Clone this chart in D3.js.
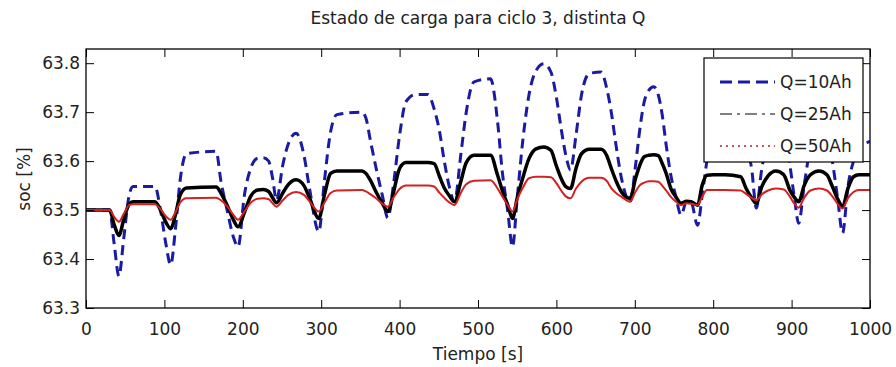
<!DOCTYPE html>
<html>
<head>
<meta charset="utf-8">
<script src="https://cdn.jsdelivr.net/npm/d3@7"></script>
<style>
  body { margin: 0; background: #fff; }
  svg { display: block; font-family: "DejaVu Sans", sans-serif; }
</style>
</head>
<body>
<div class="canvas"></div>
<script>
// time axis [s], shared by all three series
const time = [
    0, 30, 36, 42, 48, 55, 60, 88, 95, 102,
    108, 114, 120, 128, 166, 172, 180, 188, 194, 202,
    210, 219, 226, 233, 238, 243, 251, 258, 268, 278,
    285, 297, 304, 312, 320, 352, 357, 363, 370, 378,
    385, 392, 400, 408, 420, 436, 444, 451, 457, 464,
    470, 478, 485, 495, 516, 525, 531, 538, 544, 550,
    557, 565, 574, 584, 593, 600, 606, 612, 618, 625,
    632, 642, 657, 664, 670, 676, 683, 694, 701, 706,
    712, 718, 724, 730, 735, 740, 746, 752, 759, 766,
    772, 780, 786, 792, 800, 815, 835, 842, 849, 855,
    862, 870, 880, 890, 898, 904, 909, 916, 924, 935,
    945, 952, 959, 965, 972, 979, 986, 1000
];

// soc [%] for Q = 10 Ah
const socQ10 = [
    63.5, 63.5, 63.43, 63.365, 63.44, 63.53, 63.548, 63.548, 63.50, 63.43,
    63.388, 63.46, 63.56, 63.615, 63.62, 63.56, 63.50, 63.445, 63.425, 63.53,
    63.585, 63.606, 63.607, 63.60, 63.565, 63.52, 63.592, 63.635, 63.657, 63.612,
    63.545, 63.456, 63.558, 63.66, 63.695, 63.70, 63.688, 63.64, 63.586, 63.53,
    63.484, 63.55, 63.653, 63.721, 63.736, 63.736, 63.707, 63.66, 63.60, 63.544,
    63.517, 63.612, 63.70, 63.762, 63.768, 63.68, 63.578, 63.497, 63.425, 63.524,
    63.64, 63.735, 63.785, 63.799, 63.782, 63.73, 63.667, 63.612, 63.582, 63.653,
    63.735, 63.779, 63.782, 63.75, 63.70, 63.633, 63.565, 63.517, 63.592, 63.66,
    63.721, 63.745, 63.752, 63.735, 63.694, 63.633, 63.571, 63.53, 63.49, 63.517,
    63.515, 63.469, 63.53, 63.60, 63.65, 63.67, 63.67, 63.63, 63.585, 63.504,
    63.585, 63.64, 63.68, 63.665, 63.59, 63.52, 63.473, 63.55, 63.63, 63.675,
    63.66, 63.60, 63.52, 63.453, 63.55, 63.60, 63.625, 63.64
];

// soc [%] for Q = 25 Ah
const socQ25 = [
    63.5, 63.5, 63.47, 63.448, 63.48, 63.512, 63.517, 63.517, 63.50, 63.475,
    63.462, 63.49, 63.53, 63.545, 63.547, 63.535, 63.51, 63.48, 63.466, 63.495,
    63.528, 63.541, 63.542, 63.538, 63.525, 63.515, 63.535, 63.552, 63.562, 63.55,
    63.525, 63.483, 63.53, 63.575, 63.58, 63.58, 63.575, 63.56, 63.537, 63.514,
    63.497, 63.535, 63.585, 63.597, 63.597, 63.597, 63.595, 63.568, 63.545, 63.528,
    63.517, 63.558, 63.597, 63.612, 63.612, 63.571, 63.54, 63.51, 63.483, 63.525,
    63.565, 63.605, 63.625, 63.629, 63.622, 63.59, 63.565, 63.548, 63.544, 63.585,
    63.615, 63.624, 63.624, 63.612, 63.585, 63.56, 63.537, 63.524, 63.565, 63.59,
    63.609, 63.612, 63.613, 63.611, 63.595, 63.575, 63.544, 63.528, 63.514, 63.518,
    63.517, 63.51, 63.551, 63.571, 63.572, 63.572, 63.568, 63.544, 63.525, 63.514,
    63.548, 63.57, 63.58, 63.572, 63.54, 63.525, 63.517, 63.55, 63.572, 63.58,
    63.572, 63.548, 63.522, 63.507, 63.545, 63.568, 63.572, 63.572
];

// soc [%] for Q = 50 Ah
const socQ50 = [
    63.5, 63.5, 63.486, 63.476, 63.492, 63.51, 63.512, 63.512, 63.502, 63.487,
    63.48, 63.495, 63.515, 63.524, 63.525, 63.52, 63.508, 63.49, 63.48, 63.497,
    63.515, 63.523, 63.524, 63.522, 63.514, 63.507, 63.52, 63.531, 63.537, 63.531,
    63.518, 63.497, 63.515, 63.535, 63.54, 63.541, 63.538, 63.532, 63.524, 63.513,
    63.507, 63.525, 63.543, 63.55, 63.55, 63.55, 63.548, 63.535, 63.525, 63.515,
    63.51, 63.535, 63.553, 63.56, 63.561, 63.544, 63.528, 63.51, 63.497, 63.522,
    63.545, 63.565, 63.568, 63.568, 63.567, 63.555, 63.54, 63.528, 63.524, 63.544,
    63.558, 63.566, 63.566, 63.56, 63.545, 63.535, 63.527, 63.517, 63.538, 63.55,
    63.556, 63.559, 63.559, 63.558, 63.55, 63.54, 63.527, 63.518, 63.51, 63.514,
    63.513, 63.51, 63.527, 63.541, 63.541, 63.541, 63.54, 63.533, 63.525, 63.52,
    63.532, 63.54, 63.544, 63.542, 63.527, 63.512, 63.505, 63.525, 63.54, 63.544,
    63.54, 63.528, 63.512, 63.503, 63.525, 63.537, 63.541, 63.541
];

const seriesNames = ['Q=10Ah', 'Q=25Ah', 'Q=50Ah'];
const xTicks = [0, 100, 200, 300, 400, 500, 600, 700, 800, 900, 1000];
const yTicks = [63.3, 63.4, 63.5, 63.6, 63.7, 63.8];

const width = 896, height = 367;
const margin = { top: 49, right: 26, bottom: 59, left: 86 };
const graphWidth = width - margin.left - margin.right;
const graphHeight = height - margin.top - margin.bottom;

const svg = d3.select('.canvas')
    .append('svg')
    .attr('width', width)
    .attr('height', height);

const x = d3.scaleLinear().domain([0, 1000]).range([0, graphWidth]);
const y = d3.scaleLinear().domain([63.3, 63.829]).range([graphHeight, 0]);

const graph = svg.append('g')
    .attr('transform', `translate(${margin.left}, ${margin.top})`);

graph.append('clipPath').attr('id', 'clip')
    .append('rect').attr('width', graphWidth).attr('height', graphHeight);

// series: plotted in order, red ends on top
const series = [
    { name: seriesNames[0], values: socQ10, color: '#1a1aa2', width: 3, dash: '10,6' },
    { name: seriesNames[1], values: socQ25, color: '#000', width: 3.5, dash: null },
    { name: seriesNames[2], values: socQ50, color: '#d42020', width: 2, dash: null }
];

const line = d3.line()
    .defined(d => d[1] != null)
    .x(d => x(d[0]))
    .y(d => y(d[1]))
    .curve(d3.curveMonotoneX);

const lines = graph.append('g').attr('clip-path', 'url(#clip)');
series.forEach(s => {
    lines.append('path')
        .datum(time.map((t, i) => [t, s.values[i]]))
        .attr('d', line)
        .attr('fill', 'none')
        .attr('stroke', s.color)
        .attr('stroke-width', s.width)
        .attr('stroke-dasharray', s.dash)
        .attr('stroke-linejoin', 'round');
});

// axes (ticks inward, MATLAB box style)
const fmtY = d3.format('.1f');
const styleAxis = g => {
    g.selectAll('text').attr('font-size', 17).attr('fill', '#222')
        .attr('font-family', '"DejaVu Sans", sans-serif');
    g.selectAll('line').attr('stroke', '#000');
    g.select('.domain').remove();
};

graph.append('g')
    .attr('transform', `translate(0, ${graphHeight})`)
    .call(d3.axisBottom(x).tickValues(xTicks).tickSize(-8).tickPadding(15).tickFormat(d3.format('d')))
    .call(styleAxis);

graph.append('g')
    .call(d3.axisTop(x).tickValues(xTicks).tickSize(-8).tickFormat(''))
    .call(styleAxis);

graph.append('g')
    .call(d3.axisLeft(y).tickValues(yTicks).tickSize(-8).tickPadding(6).tickFormat(fmtY))
    .call(styleAxis);

graph.append('g')
    .attr('transform', `translate(${graphWidth}, 0)`)
    .call(d3.axisRight(y).tickValues(yTicks).tickSize(-8).tickFormat(''))
    .call(styleAxis);

graph.append('rect')
    .attr('width', graphWidth)
    .attr('height', graphHeight)
    .attr('fill', 'none')
    .attr('stroke', '#000')
    .attr('stroke-width', 1.3);

// title and axis labels
svg.append('text')
    .attr('x', margin.left + graphWidth / 2)
    .attr('y', 24)
    .attr('text-anchor', 'middle')
    .attr('font-size', 17)
    .attr('fill', '#222')
    .text('Estado de carga para ciclo 3, distinta Q');

svg.append('text')
    .attr('x', margin.left + graphWidth / 2)
    .attr('y', 360)
    .attr('text-anchor', 'middle')
    .attr('font-size', 17)
    .attr('fill', '#222')
    .text('Tiempo [s]');

svg.append('text')
    .attr('transform', 'translate(30, 179) rotate(-90)')
    .attr('text-anchor', 'middle')
    .attr('font-size', 17)
    .attr('fill', '#222')
    .text('soc [%]');

// legend
const legend = svg.append('g').attr('transform', 'translate(704, 58)');
legend.append('rect')
    .attr('width', 159)
    .attr('height', 104)
    .attr('fill', '#fff')
    .attr('stroke', '#000')
    .attr('stroke-width', 1.2);

const legendStyles = [
    { color: '#1a1aa2', width: 3, dash: '12,6' },
    { color: '#000', width: 1, dash: '12,5,3,5' },
    { color: '#c02020', width: 1.5, dash: '2,4' }
];

seriesNames.forEach((name, i) => {
    const yy = 24 + i * 32;
    legend.append('line')
        .attr('x1', 16).attr('x2', 71)
        .attr('y1', yy).attr('y2', yy)
        .attr('stroke', legendStyles[i].color)
        .attr('stroke-width', legendStyles[i].width)
        .attr('stroke-dasharray', legendStyles[i].dash);
    legend.append('text')
        .attr('x', 76)
        .attr('y', yy)
        .attr('dy', '0.36em')
        .attr('font-size', 17)
        .attr('fill', '#222')
        .text(name);
});
</script>
</body>
</html>
